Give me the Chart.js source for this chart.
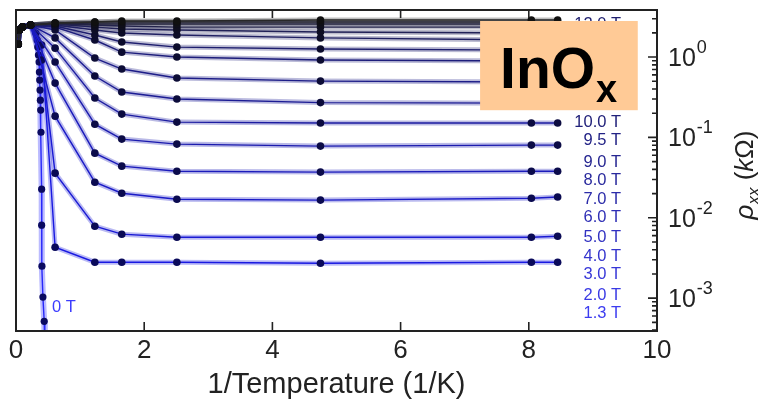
<!DOCTYPE html>
<html>
<head>
<meta charset="utf-8">
<script src="https://cdn.jsdelivr.net/npm/chart.js@4.4.0/dist/chart.umd.min.js"></script>
<style>
    html, body { margin: 0; padding: 0; background: #fff; }
    #wrap { width: 758px; height: 406px; }
</style>
</head>
<body>
<div id="wrap"><canvas id="rhoChart" width="758" height="406"></canvas></div>
<script>
// 1/T columns (1/K) shared by the field sweeps
const invT = [0.035, 0.05, 0.1, 0.23, 0.40, 0.61, 1.23, 1.65, 2.51, 4.75, 8.04, 8.45];

// rho_xx (kOhm) for each field sweep, highest curve first; null = no point at that 1/T
const rhoCurves = [
    [1.45, 2.17, 2.36, 2.50, null, 2.65, 2.73, 2.81, 2.81, 2.89, 2.89, 2.89],
    [1.45, 2.17, 2.36, 2.50, null, 2.65, 2.73, 2.73, 2.73, 2.73, 2.73, 2.73],
    [1.45, 2.17, 2.36, 2.50, null, 2.65, 2.58, 2.58, 2.58, 2.58, 2.58, 2.58],
    [1.45, 2.17, 2.36, 2.50, null, 2.58, 2.50, 2.43, 2.36, 2.36, 2.36, 2.36],
    [1.45, 2.17, 2.36, 2.50, null, 2.58, 2.36, 2.23, 2.17, 2.05, 1.99, 1.99],
    [1.45, 2.17, 2.36, 2.50, null, 2.50, 2.17, 1.99, 1.88, 1.73, 1.63, 1.63],
    [1.45, 2.17, 2.36, 2.50, null, 2.43, 1.88, 1.54, 1.33, 1.26, 1.22, 1.22],
    [1.45, 2.17, 2.36, 2.50, null, 2.36, 1.63, 1.15, 1.00, 0.918, 0.892, 0.892],
    [1.45, 2.17, 2.36, 2.50, null, 2.17, 0.972, 0.709, 0.548, 0.502, 0.489, 0.489],
    [1.45, 2.17, 2.36, 2.50, null, 1.73, 0.580, 0.367, 0.300, 0.271, 0.267, 0.267],
    [1.45, 2.17, 2.36, 2.50, null, 1.29, 0.309, 0.195, 0.155, 0.151, 0.151, 0.151],
    [1.45, 2.17, 2.36, 2.50, null, 0.866, 0.146, 0.0953, 0.0826, 0.0780, 0.0802, 0.0802],
    [1.45, 2.17, 2.36, 2.50, null, 0.474, 0.0637, 0.0439, 0.0380, 0.0370, 0.0380, 0.0380],
    [1.45, 2.17, 2.36, 2.50, null, 0.184, 0.0277, 0.0202, 0.0170, 0.0166, 0.0175, 0.0181],
    [1.45, 2.17, 2.36, 2.50, 0.918, 0.0359, 0.00786, 0.00625, 0.00573, 0.00573, 0.00573, 0.00590],
    [1.45, 2.17, 2.36, 2.50, 1.41, 0.00430, 0.00280, 0.00280, 0.00280, 0.00272, 0.00280, 0.00280]
];

// zero-field sweep: drops through the superconducting transition
const zeroInvT = [0.035, 0.05, 0.1, 0.23, 0.31, 0.33, 0.34, 0.35, 0.36, 0.365, 0.37, 0.375, 0.38, 0.385, 0.39, 0.40, 0.40, 0.405, 0.42, 0.44, 0.45];
const zeroRho = [1.45, 2.17, 2.36, 2.50, 1.99, 1.63, 1.33, 1.06, 0.866, 0.650, 0.517, 0.388, 0.291, 0.219, 0.116, 0.0227, 0.00809, 0.00250, 0.00103, 0.000515, 0.0002];

// field list on the right
const fieldLabels = ["12.0 T", "10.0 T", "9.5 T", "9.0 T", "8.0 T", "7.0 T", "6.0 T", "5.0 T", "4.0 T", "3.0 T", "2.0 T", "1.3 T"];
const fieldLabelRho = [2.58, 0.155, 0.0925, 0.0492, 0.0294, 0.0170, 0.0102, 0.00573, 0.00333, 0.00199, 0.00109, 0.000649];
const fieldLabelInvT = 9.44;

const xTickValues = [0, 2, 4, 6, 8, 10];
const yDecades = [-3, -2, -1, 0];

const FONT = '"Liberation Sans", Arial, sans-serif';

function mix(a, b, t) {
    return a.map((v, k) => Math.round(v + (b[k] - v) * t));
}

function curveRgb(i, n) {
    const t = i / (n - 1);
    if (t < 0.4) return mix([40, 40, 40], [30, 30, 110], t / 0.4);
    return mix([30, 30, 110], [25, 25, 225], (t - 0.4) / 0.6);
}

const datasets = [];
rhoCurves.forEach((rho, i) => {
    const c = curveRgb(i, rhoCurves.length);
    const pts = invT.map((x, j) => ({ x: x, y: rho[j] }));
    datasets.push({
        data: pts, borderColor: `rgba(${c},0.3)`, borderWidth: 5,
        pointRadius: 0, spanGaps: true, order: 2
    });
    datasets.push({
        data: pts, borderColor: `rgb(${c})`, borderWidth: 1.4,
        pointRadius: 3.8, pointBorderWidth: 0,
        pointBackgroundColor: `rgb(${mix(c, [0, 0, 0], 0.6)})`,
        spanGaps: true, order: 1
    });
});

const zeroPts = zeroInvT.map((x, j) => ({ x: x, y: zeroRho[j] }));
datasets.push({
    data: zeroPts, borderColor: "rgba(60,60,255,0.35)", borderWidth: 6,
    pointRadius: 0, order: 2
});
datasets.push({
    data: zeroPts, borderColor: "rgb(40,40,250)", borderWidth: 1.4,
    pointRadius: 3.6, pointBorderWidth: 0, pointBackgroundColor: "#0a0a60", order: 1
});

// labels, InOx box, frame, inward ticks and right-hand axis text
const decorations = {
    id: "decorations",
    afterDraw(chart) {
        const { ctx, chartArea: a, scales: { x, y } } = chart;
        ctx.save();

        // field labels
        ctx.font = "16.5px " + FONT;
        ctx.textAlign = "right";
        ctx.textBaseline = "middle";
        fieldLabels.forEach((t, i) => {
            const k = i / (fieldLabels.length - 1);
            ctx.fillStyle = `rgb(${mix([30, 30, 110], [60, 60, 240], k)})`;
            ctx.fillText(t, x.getPixelForValue(fieldLabelInvT), y.getPixelForValue(fieldLabelRho[i]));
        });
        ctx.textAlign = "left";
        ctx.fillStyle = "rgb(60,60,255)";
        ctx.fillText("0 T", x.getPixelForValue(0.56), y.getPixelForValue(0.00077));

        // InOx box
        const bx = x.getPixelForValue(7.24), bx2 = x.getPixelForValue(9.70);
        const by = y.getPixelForValue(2.81), by2 = y.getPixelForValue(0.218);
        ctx.fillStyle = "#ffca96";
        ctx.fillRect(bx, by, bx2 - bx, by2 - by);
        ctx.fillStyle = "#000";
        ctx.textBaseline = "alphabetic";
        ctx.font = "bold 57px " + FONT;
        ctx.fillText("InO", bx + 20, by + 67);
        const w = ctx.measureText("InO").width;
        ctx.font = "bold 38px " + FONT;
        ctx.fillText("x", bx + 21 + w, by + 81);

        // frame
        ctx.strokeStyle = "#222";
        ctx.lineWidth = 2;
        ctx.strokeRect(a.left, a.top, a.right - a.left, a.bottom - a.top);

        // x ticks, bottom and top, pointing inward
        ctx.lineWidth = 1.6;
        ctx.beginPath();
        xTickValues.forEach(v => {
            const px = x.getPixelForValue(v);
            ctx.moveTo(px, a.bottom); ctx.lineTo(px, a.bottom - 9);
            ctx.moveTo(px, a.top); ctx.lineTo(px, a.top + 8);
        });
        // log ticks on the right edge
        for (let d = -4; d <= 0; d++) {
            for (let m = 1; m <= 9; m++) {
                const v = m * Math.pow(10, d);
                if (v < y.min || v > y.max) continue;
                const py = y.getPixelForValue(v);
                const len = m === 1 ? 9 : 5;
                ctx.moveTo(a.right, py); ctx.lineTo(a.right - len, py);
            }
        }
        ctx.stroke();

        // decade labels
        ctx.fillStyle = "#222";
        yDecades.forEach(d => {
            const py = y.getPixelForValue(Math.pow(10, d));
            ctx.font = "25px " + FONT;
            ctx.fillText("10", a.right + 11, py + 9);
            const w10 = ctx.measureText("10").width;
            ctx.font = "18px " + FONT;
            ctx.fillText(d === 0 ? "0" : "-" + (-d), a.right + 12 + w10, py - 4);
        });

        // rotated y title: rho_xx (kOhm)
        const parts = [
            { t: "\u03c1", f: "italic 26px " + FONT, dy: 0 },
            { t: "xx", f: "italic 17px " + FONT, dy: 6 },
            { t: " (", f: "26px " + FONT, dy: 0 },
            { t: "k", f: "italic 26px " + FONT, dy: 0 },
            { t: "\u03a9", f: "26px " + FONT, dy: 0 },
            { t: ")", f: "26px " + FONT, dy: 0 }
        ];
        let total = 0;
        parts.forEach(p => { ctx.font = p.f; p.w = ctx.measureText(p.t).width; total += p.w; });
        ctx.translate(753, 175);
        ctx.rotate(-Math.PI / 2);
        let cx = -total / 2;
        parts.forEach(p => {
            ctx.font = p.f;
            ctx.fillText(p.t, cx, p.dy);
            cx += p.w;
        });

        ctx.restore();
    }
};

new Chart(document.getElementById("rhoChart"), {
    type: "line",
    data: { datasets: datasets },
    options: {
        responsive: false,
        animation: false,
        events: [],
        layout: { padding: { left: 16, top: 10, right: 0, bottom: 0 } },
        plugins: { legend: { display: false }, tooltip: { enabled: false } },
        scales: {
            x: {
                type: "linear",
                min: 0,
                max: 10,
                afterBuildTicks: s => { s.ticks = xTickValues.map(v => ({ value: v })); },
                ticks: { font: { size: 26, family: FONT }, color: "#222", padding: 4, maxRotation: 0 },
                grid: { display: false, drawTicks: false },
                border: { display: false },
                title: {
                    display: true,
                    text: "1/Temperature (1/K)",
                    font: { size: 29, family: FONT },
                    color: "#222",
                    padding: { top: 0, bottom: 4 }
                },
                afterFit: s => { s.height = 75; }
            },
            y: {
                type: "logarithmic",
                position: "right",
                min: 3.9e-4,
                max: 3.85,
                ticks: { display: false },
                grid: { display: false, drawTicks: false },
                border: { display: false },
                afterFit: s => { s.width = 101; }
            }
        }
    },
    plugins: [decorations]
});
</script>
</body>
</html>
